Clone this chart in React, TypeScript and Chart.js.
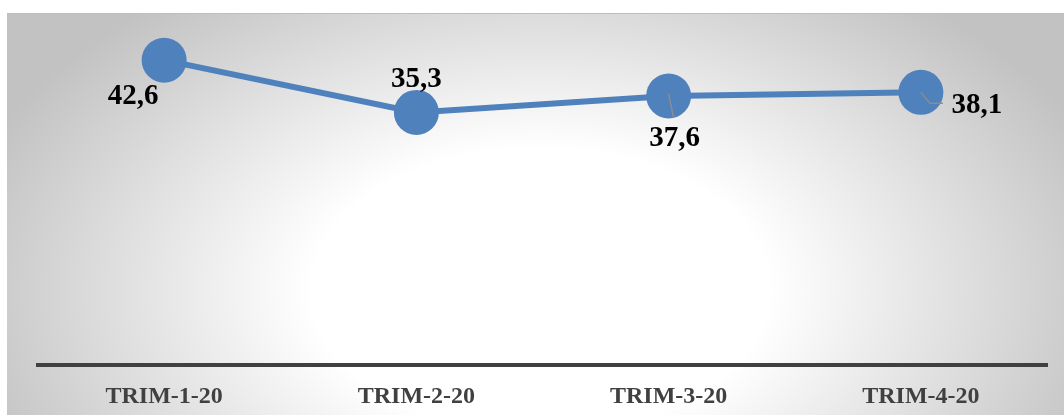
import React, { useEffect, useRef } from "react";
import { Chart, registerables } from "chart.js";

Chart.register(...registerables);

const categories = ["TRIM-1-20", "TRIM-2-20", "TRIM-3-20", "TRIM-4-20"];
const values = [42.6, 35.3, 37.6, 38.1];
const valueLabels = ["42,6", "35,3", "37,6", "38,1"];
// label offsets from the point (px)
const labelOffsets = [
  [-31, 36],
  [0, -33],
  [6, 43],
  [56, 13],
];

const bgPlugin = {
  id: "bgPlugin",
  beforeDraw(chart: any) {
    const ctx = chart.ctx;
    const W = chart.width;
    const H = chart.height;
    ctx.save();
    ctx.fillStyle = "#ffffff";
    ctx.fillRect(0, 0, W, H);
    const x0 = 7, y0 = 13;
    const cx = 540, cy = 290;
    const sx = 1.0, sy = 0.62;
    ctx.beginPath();
    ctx.rect(x0, y0, W - x0, H - y0);
    ctx.clip();
    ctx.translate(cx, cy);
    ctx.scale(sx, sy);
    const g = ctx.createRadialGradient(0, 0, 0, 0, 0, 600);
    g.addColorStop(0, "#ffffff");
    g.addColorStop(0.38, "#ffffff");
    g.addColorStop(1, "#c2c2c2");
    ctx.fillStyle = g;
    ctx.fillRect(-cx / sx, -cy / sy, W / sx, H / sy);
    ctx.restore();
    ctx.save();
    ctx.strokeStyle = "#bdbdbd";
    ctx.lineWidth = 1;
    ctx.beginPath();
    ctx.moveTo(x0, y0 + 0.5);
    ctx.lineTo(W, y0 + 0.5);
    ctx.stroke();
    ctx.restore();
  },
};

const labelPlugin = {
  id: "labelPlugin",
  afterDatasetsDraw(chart: any) {
    const ctx = chart.ctx;
    const meta = chart.getDatasetMeta(0);
    ctx.save();
    // leader lines
    ctx.strokeStyle = "#8c8c8c";
    ctx.lineWidth = 1.5;
    const p2 = meta.data[2];
    ctx.beginPath();
    ctx.moveTo(p2.x, p2.y - 2);
    ctx.lineTo(p2.x + 5, p2.y + 22);
    ctx.stroke();
    const p3 = meta.data[3];
    ctx.beginPath();
    ctx.moveTo(p3.x, p3.y);
    ctx.lineTo(p3.x + 9, p3.y + 11);
    ctx.lineTo(p3.x + 22, p3.y + 11);
    ctx.stroke();

    ctx.fillStyle = "#000000";
    ctx.font = "bold 29px 'Liberation Serif', 'Times New Roman', serif";
    ctx.textAlign = "center";
    ctx.textBaseline = "middle";
    meta.data.forEach((pt: any, i: number) => {
      const [dx, dy] = labelOffsets[i];
      ctx.fillText(valueLabels[i], pt.x + dx, pt.y + dy);
    });
    ctx.restore();
  },
};

export default function App() {
  const ref = useRef<HTMLCanvasElement | null>(null);
  useEffect(() => {
    if (!ref.current) return;
    const chart = new Chart(ref.current, {
      type: "line",
      data: {
        labels: categories,
        datasets: [
          {
            data: values,
            borderColor: "#4f81bd",
            backgroundColor: "#4f81bd",
            borderWidth: 6,
            pointRadius: 22.5,
            pointHoverRadius: 22.5,
            pointBackgroundColor: "#4f81bd",
            pointBorderWidth: 0,
            tension: 0,
            clip: false,
          },
        ],
      },
      options: {
        responsive: false,
        animation: false,
        layout: { autoPadding: false, padding: { left: 38, right: 17, top: 43, bottom: 0 } },
        plugins: {
          legend: { display: false },
          tooltip: { enabled: false },
        },
        scales: {
          x: {
            offset: true,
            grid: { display: false, drawTicks: false },
            border: { display: true, color: "#404040", width: 4 },
            ticks: {
              color: "#404040",
              padding: 17,
              font: { family: "'Liberation Serif', 'Times New Roman', serif", size: 24, weight: "bold" },
            },
            afterFit(scale: any) {
              scale.height = 50;
              scale.paddingLeft = 0;
              scale.paddingRight = 0;
            },
          },
          y: {
            display: false,
            min: 0,
            max: 45,
          },
        },
      },
      plugins: [bgPlugin, labelPlugin],
    });
    return () => chart.destroy();
  }, []);
  return (
    <div style={{ position: "fixed", left: 0, top: 0, width: 1064, height: 415 }}>
      <canvas ref={ref} width={1064} height={415} style={{ display: "block" }} />
    </div>
  );
}
